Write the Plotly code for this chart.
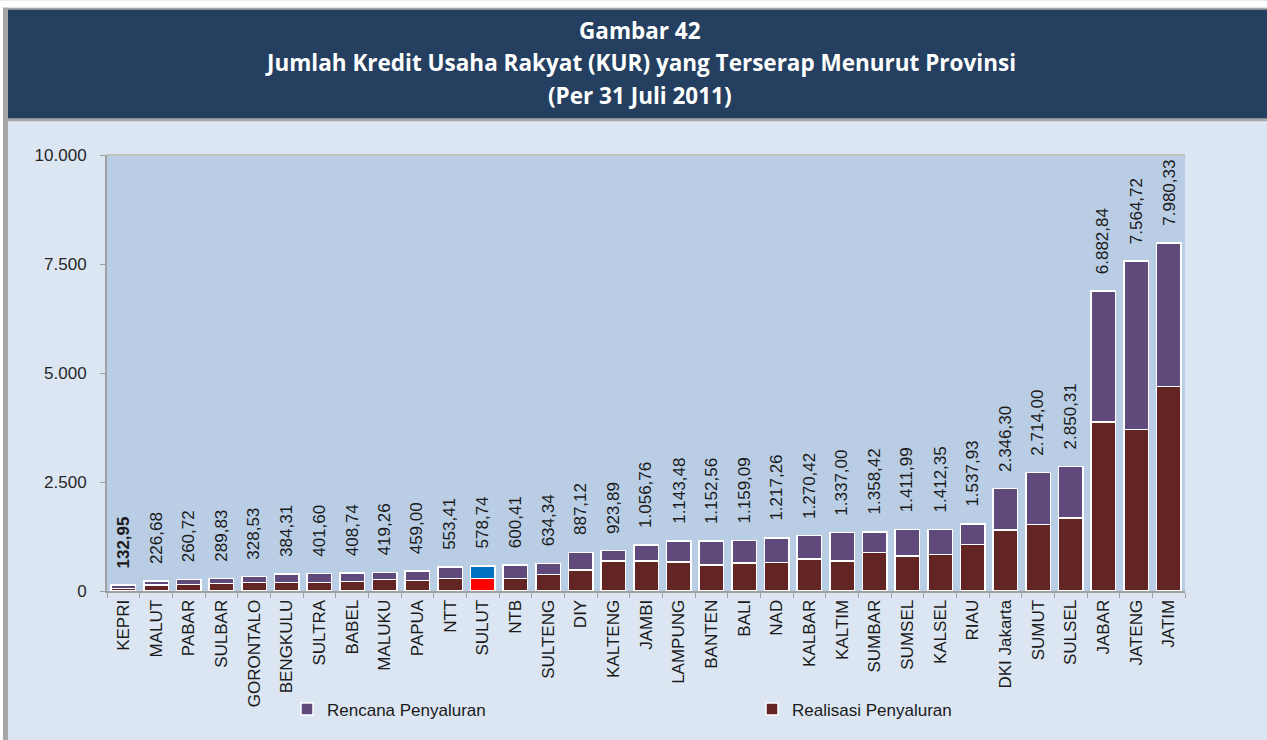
import plotly.graph_objects as go

# Provinces, sorted by total KUR absorbed
provinsi = ["KEPRI", "MALUT", "PABAR", "SULBAR", "GORONTALO", "BENGKULU", "SULTRA",
            "BABEL", "MALUKU", "PAPUA", "NTT", "SULUT", "NTB", "SULTENG", "DIY",
            "KALTENG", "JAMBI", "LAMPUNG", "BANTEN", "BALI", "NAD", "KALBAR", "KALTIM",
            "SUMBAR", "SUMSEL", "KALSEL", "RIAU", "DKI Jakarta", "SUMUT", "SULSEL",
            "JABAR", "JATENG", "JATIM"]

# Total (Rencana Penyaluran stacked on Realisasi) per province
total = [132.95, 226.68, 260.72, 289.83, 328.53, 384.31, 401.60, 408.74, 419.26,
         459.00, 553.41, 578.74, 600.41, 634.34, 887.12, 923.89, 1056.76, 1143.48,
         1152.56, 1159.09, 1217.26, 1270.42, 1337.00, 1358.42, 1411.99, 1412.35,
         1537.93, 2346.30, 2714.00, 2850.31, 6882.84, 7564.72, 7980.33]

# Realisasi Penyaluran per province
realisasi = [60, 137, 152, 167, 190, 198, 198, 213, 266, 244, 282, 282, 289, 373,
             479, 685, 692, 662, 594, 639, 654, 731, 692, 883, 799, 837, 1065,
             1400, 1522, 1674, 3874, 3706, 4696]

rencana = [t - r for t, r in zip(total, realisasi)]

highlight = "SULUT"
C_REAL, C_REN = "#632523", "#5F4A7B"
col_real = ["#FF0000" if p == highlight else C_REAL for p in provinsi]
col_ren = ["#0070C0" if p == highlight else C_REN for p in provinsi]

W, H = 1267, 740
L, R, T, B = 107, 1185, 155, 593


def px(x):
    return (x - L) / (R - L)


def py(y):
    return (B - y) / (B - T)


FONT = "Liberation Sans, Arial, sans-serif"
FS = 17

fig = go.Figure()
fig.add_trace(go.Bar(x=provinsi, y=realisasi, name="Realisasi Penyaluran",
                     marker=dict(color=col_real, line=dict(color="white", width=1.5)),
                     legend="legend2", hoverinfo="x+y"))
fig.add_trace(go.Bar(x=provinsi, y=rencana, name="Rencana Penyaluran",
                     marker=dict(color=col_ren, line=dict(color="white", width=1.5)),
                     legend="legend", hoverinfo="x+y"))


def fmt(v):
    s = f"{v:,.2f}"
    return s.replace(",", "X").replace(".", ",").replace("X", ".")


annotations = []
for i, (p, t) in enumerate(zip(provinsi, total)):
    txt = fmt(t)
    if i == 0:
        txt = f"<b>{txt}</b>"
    annotations.append(dict(x=p, y=t, xref="x", yref="y", text=txt, textangle=-90,
                            showarrow=False, yanchor="bottom", yshift=15,
                            font=dict(family=FONT, size=FS, color="#1a1a1a")))

titles = ["Gambar 42",
          "Jumlah Kredit Usaha Rakyat (KUR) yang Terserap Menurut Provinsi",
          "(Per 31 Juli 2011)"]
for line, ypix in zip(titles, [30, 62, 95]):
    annotations.append(dict(x=px(640), y=py(ypix), xref="paper", yref="paper",
                            text=f"<b>{line}</b>", showarrow=False,
                            xanchor="center", yanchor="middle",
                            font=dict(family="Open Sans, sans-serif", size=22.5, color="white")))

shapes = [
    # outer frame and title band
    dict(type="rect", xref="paper", yref="paper", x0=px(0), x1=px(W), y0=py(0), y1=py(7),
         fillcolor="white", line_width=0, layer="below"),
    dict(type="rect", xref="paper", yref="paper", x0=px(3), x1=px(W), y0=py(7), y1=py(121),
         fillcolor="#A6A6A6", line_width=0, layer="below"),
    dict(type="rect", xref="paper", yref="paper", x0=px(3), x1=px(8), y0=py(7), y1=py(W),
         fillcolor="#A6A6A6", line_width=0, layer="below"),
    dict(type="rect", xref="paper", yref="paper", x0=px(0), x1=px(3), y0=py(7), y1=py(W),
         fillcolor="white", line_width=0, layer="below"),
    dict(type="rect", xref="paper", yref="paper", x0=px(8), x1=px(W), y0=py(9), y1=py(118),
         fillcolor="#243F60", line_width=0, layer="below"),
    # top border of plot area
    dict(type="line", xref="paper", yref="paper", x0=0, x1=1, y0=1, y1=1,
         line=dict(color="#C0C0C0", width=2)),
]

legend_common = dict(orientation="h", yanchor="middle", xanchor="left", y=py(712),
                     bgcolor="rgba(0,0,0,0)", font=dict(family=FONT, size=FS, color="#1a1a1a"))

fig.update_layout(
    width=W, height=H,
    barmode="stack", bargap=0.25,
    separators=",.",
    paper_bgcolor="#DCE6F2", plot_bgcolor="#B9CDE5",
    margin=dict(l=L, r=W - R, t=T, b=H - B, pad=0),
    font=dict(family=FONT, size=FS, color="#262626"),
    xaxis=dict(showline=True, linecolor="#A0A0A0", linewidth=2, tickangle=-90,
               ticks="outside", ticklen=5, tickcolor="#A0A0A0", tickson="boundaries",
               showgrid=False, tickfont=dict(size=FS, color="#1a1a1a"),
               range=[-0.5, len(provinsi) - 0.5]),
    yaxis=dict(range=[0, 10000], dtick=2500, tickformat=",d", showgrid=False,
               showline=True, linecolor="#A0A0A0", linewidth=2, ticks="outside",
               ticklen=5, tickcolor="#A0A0A0", zeroline=False, ticklabelstandoff=10,
               tickfont=dict(size=FS, color="#262626")),
    yaxis2=dict(range=[0, 9000], dtick=1000, tickformat=",d", overlaying="y",
                side="right", showgrid=False, showline=True, linecolor="#A0A0A0",
                linewidth=2, ticks="outside", ticklen=5, tickcolor="#A0A0A0",
                zeroline=False, ticklabelstandoff=8,
                tickfont=dict(size=FS, color="#262626")),
    showlegend=True,
    legend=dict(x=px(287), **legend_common),
    legend2=dict(x=px(752), **legend_common),
    annotations=annotations,
    shapes=shapes,
)

fig.write_html("out.html")
